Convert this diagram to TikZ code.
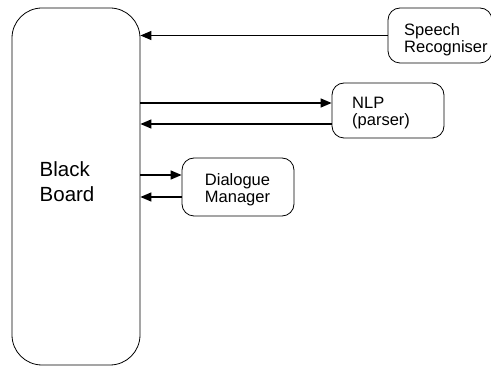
\documentclass[tikz,border=0pt]{standalone}
\usepackage{fontspec}
\setmainfont{Liberation Sans}
\usetikzlibrary{arrows.meta}
\begin{document}
\begin{tikzpicture}[x=1pt,y=-1pt,
  box/.style={draw,line width=0.8pt,rounded corners=12pt,inner sep=0pt},
  small/.style={font=\fontsize{16.5}{17.5}\selectfont,align=left,inner sep=0pt,anchor=west},
  link/.style={line width=1.3pt,-{Triangle[length=11pt,width=9pt]}}]
\useasboundingbox (0,0) rectangle (491,366);
\node[box,rounded corners=30pt,minimum width=128pt,minimum height=357pt] (bb) at (76,186.5) {};
\node[anchor=west,align=left,inner sep=0pt,font=\fontsize{20.5}{24.5}\selectfont] (bbt) at (39.5,181.5) {Black\\Board};
\node[box,minimum width=104pt,minimum height=55pt] (sr) at (440,35.5) {};
\node[small] (srt) at (404,39.5) {Speech\\Recogniser};
\node[box,minimum width=112pt,minimum height=55pt] (nlp) at (388,110.5) {};
\node[small] (nlpt) at (352,113) {NLP\\(parser)};
\node[box,minimum width=112pt,minimum height=58pt] (dm) at (238,187) {};
\node[font=\fontsize{16.5}{17.5}\selectfont,align=center,inner sep=0pt] (dmt) at (237.5,189.5) {Dialogue\\Manager};
\coordinate (y1) at (0,35.5);
\coordinate (y2) at (0,103);
\coordinate (y3) at (0,124);
\coordinate (y4) at (0,175);
\coordinate (y5) at (0,197);
\draw[link] (sr.west |- y1) -- (bb.east |- y1);
\draw[link] (bb.east |- y2) -- (nlp.west |- y2);
\draw[link] (nlp.west |- y3) -- (bb.east |- y3);
\draw[link] (bb.east |- y4) -- (dm.west |- y4);
\draw[link] (dm.west |- y5) -- (bb.east |- y5);
\end{tikzpicture}
\end{document}
